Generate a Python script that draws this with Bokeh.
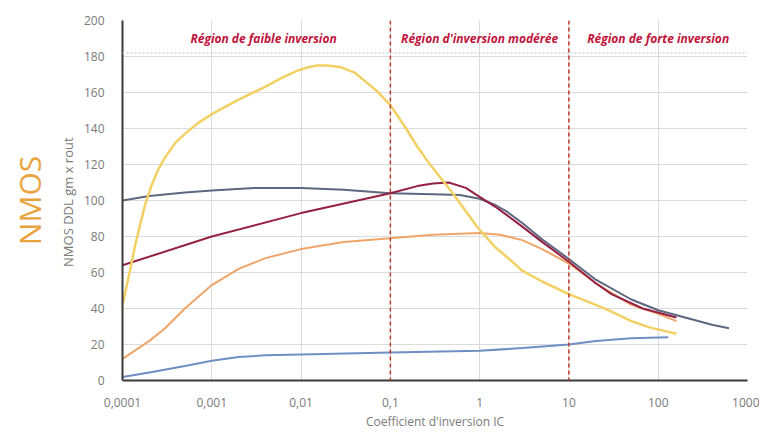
from bokeh.plotting import figure
from bokeh.models import FixedTicker, CustomJSTickFormatter, Span, Title, ColumnDataSource
from bokeh.core.properties import value
from bokeh.embed import file_html
from bokeh.resources import INLINE

# ---- data ----
x_ticks = [1e-4, 1e-3, 1e-2, 1e-1, 1, 10, 100, 1000]
y_ticks = [0, 20, 40, 60, 80, 100, 120, 140, 160, 180, 200]

yellow_x = [1e-4, 1.2e-4, 1.4e-4, 1.6e-4, 1.8e-4, 2.1e-4, 2.5e-4, 3e-4, 3.9e-4, 5e-4, 7e-4, 1e-3, 2e-3,
            3.9e-3, 6e-3, 9e-3, 1.2e-2, 1.5e-2, 2e-2, 2.8e-2, 4e-2, 5e-2, 7e-2, 0.1, 0.15, 0.2, 0.26, 0.36,
            0.5, 0.7, 0.95, 1.5, 2.2, 3, 5, 10, 20, 28, 50, 80, 130, 160]
yellow_y = [42, 60, 76, 88, 98, 108, 117, 124, 132, 137, 143, 148, 156,
            163, 168, 172, 174, 175, 175, 174, 171, 167, 161, 153, 140, 130, 122, 113,
            104, 94, 85, 74, 67, 61, 55, 48, 42, 39, 33, 29.5, 27, 26]

slate_x = [1e-4, 2e-4, 5e-4, 1e-3, 3e-3, 1e-2, 3e-2, 0.1, 0.3, 0.6, 1, 1.5, 2, 3, 5, 10, 20, 50, 100, 200, 400, 620]
slate_y = [100, 102.5, 104.5, 105.5, 107, 107, 106, 104, 103.5, 103, 101, 97.5, 94, 87.5, 78.5, 67.5, 56, 45, 39, 35, 31, 29]

maroon_x = [1e-4, 1e-3, 1e-2, 0.1, 0.2, 0.3, 0.45, 0.7, 1, 1.5, 2, 3, 5, 10, 20, 30, 67, 160]
maroon_y = [64, 80, 93, 104, 108, 109.5, 110, 107, 102, 96.5, 92, 85.5, 77, 66, 54, 48, 40, 35]

orange_x = [1e-4, 2e-4, 3e-4, 5e-4, 1e-3, 2e-3, 4e-3, 1e-2, 3e-2, 0.1, 0.3, 1, 1.7, 3, 5, 10, 20, 50, 100, 160]
orange_y = [12, 22, 29, 40, 53, 62, 68, 73, 77, 79, 81, 82, 81, 78, 73, 65, 54, 42, 37, 33]

blue_x = [1e-4, 2e-4, 5e-4, 1e-3, 2e-3, 4e-3, 1e-2, 0.1, 1, 3, 10, 20, 50, 130]
blue_y = [2, 4.5, 8, 11, 13, 14, 14.5, 15.5, 16.5, 18, 20, 22, 23.5, 24]

region_x = [3.8e-3, 1.0, 100]
region_y = [190, 190, 190]
region_labels = ["Région de faible inversion", "Région d'inversion modérée", "Région de forte inversion"]

boundaries = [0.1, 10]

p = figure(width=753, height=417, frame_width=625, frame_height=360,
           x_axis_type="log", x_range=(1e-4, 1e3), y_range=(0, 200),
           output_backend="svg", toolbar_location=None,
           min_border_left=116, min_border_right=12, min_border_top=20, min_border_bottom=37)
p.outline_line_color = None
p.background_fill_color = "white"

# axes
p.xaxis.ticker = FixedTicker(ticks=x_ticks, minor_ticks=[])
p.yaxis.ticker = FixedTicker(ticks=y_ticks, minor_ticks=[])
p.xaxis.formatter = CustomJSTickFormatter(code="return tick.toString().replace('.', ',');")
for ax in (p.xaxis, p.yaxis):
    ax.major_tick_line_color = None
    ax.minor_tick_line_color = None
    ax.major_label_text_font = "Open Sans"
    ax.major_label_text_font_size = "12px"
    ax.major_label_text_color = "#7a7a7a"
    ax.axis_label_text_font = "Open Sans"
    ax.axis_label_text_font_size = "12px"
    ax.axis_label_text_color = "#7a7a7a"
    ax.axis_label_text_font_style = "normal"
    ax.axis_line_color = "#3a3a3a"
    ax.axis_line_width = 2
p.xaxis.major_label_standoff = 11
p.yaxis.major_label_standoff = 12
p.xaxis.axis_label = "Coefficient d'inversion IC"
p.yaxis.axis_label = "NMOS DDL  gm x rout"
p.yaxis.axis_label_text_font_size = "13px"
p.xaxis.axis_label_standoff = 3
p.yaxis.axis_label_standoff = 4

p.xgrid.grid_line_color = "#dcdcdc"
p.ygrid.grid_line_color = "#dcdcdc"

# dotted region arrows line
p.add_layout(Span(location=182, dimension="width", line_color="#cdd8e8", line_dash="2 2", line_width=1.5))

# curves
p.line(blue_x, blue_y, line_color="#6f8fc4", line_width=2)
p.line(orange_x, orange_y, line_color="#efa56a", line_width=2)
p.line(slate_x, slate_y, line_color="#5d6780", line_width=2)
p.line(maroon_x, maroon_y, line_color="#962044", line_width=2)
p.line(yellow_x, yellow_y, line_color="#f3d064", line_width=2.5)

for b in boundaries:
    p.add_layout(Span(location=b, dimension="height", line_color="#c0392b", line_dash="4 3", line_width=1.5))

src = ColumnDataSource(dict(x=region_x, y=region_y, t=region_labels))
p.text(x="x", y="y", text="t", source=src, text_font=value("Open Sans"), text_font_style="bold italic",
       text_font_size="12px", text_color="#c0143c", text_align="center", text_baseline="middle")

p.add_layout(Title(text="NMOS", text_font="Open Sans", text_font_size="30px", text_font_style="normal",
                   text_color="#e9a33c", align="center", standoff=12), "left")

open("out.html", "w").write(file_html(p, INLINE))
